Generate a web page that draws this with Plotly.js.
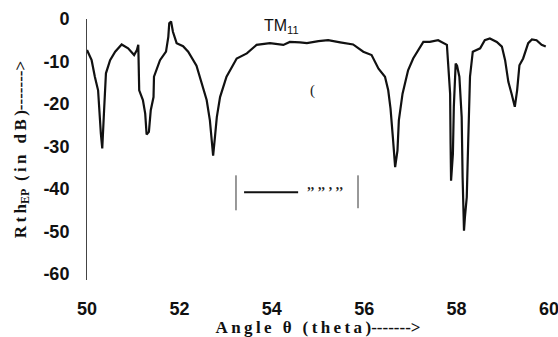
<!DOCTYPE html>
<html>
<head>
<meta charset="utf-8">
<script src="https://cdn.plot.ly/plotly-3.0.1.min.js"></script>
<style>html,body{margin:0;padding:0;background:#fff;}#chart{width:558px;height:337px;}</style>
</head>
<body>
<div id="chart"></div>
<script>
// Angle theta (degrees)
const angle = [
  50.00, 50.10, 50.17, 50.24, 50.30, 50.33, 50.37, 50.41, 50.50, 50.61,
  50.75, 50.89, 51.02, 51.08, 51.11, 51.13, 51.21, 51.26, 51.29, 51.34,
  51.38, 51.44, 51.45, 51.58, 51.71, 51.76, 51.78, 51.82, 51.86, 51.94,
  52.08, 52.19, 52.37, 52.48, 52.59, 52.66, 52.71, 52.73, 52.77, 52.81,
  52.88, 53.02, 53.24, 53.46, 53.67, 53.96, 54.25, 54.39, 54.61, 54.76,
  55.01, 55.22, 55.48, 55.76, 55.98, 56.16, 56.31, 56.45, 56.52, 56.57,
  56.62, 56.67, 56.72, 56.75, 56.83, 56.95, 57.06, 57.17, 57.28, 57.42,
  57.60, 57.79, 57.82, 57.86, 57.87, 57.88, 57.92, 57.94, 57.98, 58.01,
  58.06, 58.11, 58.13, 58.15, 58.16, 58.18, 58.22, 58.25, 58.29, 58.35,
  58.44, 58.51, 58.61, 58.72, 58.87, 58.98, 59.05, 59.12, 59.19, 59.26,
  59.31, 59.36, 59.44, 59.55, 59.63, 59.73, 59.84, 59.93
];
// Rth_EP (dB)
const rthEP = [
  -7.3, -9.7, -13.6, -16.8, -27.0, -30.5, -21.5, -12.8, -9.7, -7.7,
  -6.0, -6.9, -8.5, -7.3, -6.1, -16.8, -19.1, -22.3, -27.2, -26.6,
  -21.5, -18.4, -13.6, -9.7, -7.7, -4.2, -1.0, -0.6, -3.0, -5.7,
  -6.4, -7.7, -11.0, -15.2, -19.1, -23.9, -29.4, -32.2, -27.8, -23.1,
  -18.4, -13.6, -9.3, -8.1, -6.1, -5.7, -6.1, -5.4, -5.5, -5.7,
  -5.2, -5.0, -5.5, -6.0, -7.7, -8.5, -11.7, -13.6, -16.8, -21.1,
  -27.8, -34.9, -31.0, -23.9, -17.6, -12.1, -9.3, -7.3, -5.4, -5.4,
  -5.0, -6.1, -11.3, -17.6, -29.4, -38.1, -31.8, -20.7, -10.5, -11.0,
  -13.6, -23.1, -37.3, -46.7, -49.9, -46.7, -42.0, -29.4, -13.6, -7.7,
  -7.3, -6.9, -5.0, -4.6, -5.4, -6.5, -9.7, -14.8, -17.6, -20.7,
  -16.8, -10.9, -9.3, -5.7, -4.8, -5.0, -6.1, -6.5
];

const xTickVals = [50, 52, 54, 56, 58, 60];
const xTickText = ["50", "52", "54", "56", "58", "60"];
const yTickVals = [0, -10, -20, -30, -40, -50, -60];
const yTickText = ["0", "-10", "-20", "-30", "-40", "-50", "-60"];
const curveLabel = "TM<sub>11</sub>";
const legendName = "’’ ’’ ’ ’’";
const xTitle = "A\u2009n\u2009g\u2009l\u2009e\u2009 \u2009θ\u2009 \u2009(\u2009t\u2009h\u2009e\u2009t\u2009a\u2009)------->";
const yTitle = "R\u2009t\u2009h<sub>EP</sub>\u2009 (\u2009i\u2009n\u2009 \u2009d\u2009B\u2009)------->";

const tickFont = {family: "Liberation Sans, Arial, sans-serif", size: 18, color: "#111", weight: "bold"};
const titleFont = {family: "Liberation Serif, Times New Roman, serif", size: 17, color: "#111", weight: "bold"};

const trace = {
  x: angle, y: rthEP, type: "scatter", mode: "lines",
  line: {color: "#111", width: 2.2, shape: "linear"},
  name: legendName, showlegend: false, hoverinfo: "skip"
};

const layout = {
  width: 558, height: 337,
  margin: {l: 87, r: 9, t: 19, b: 57, pad: 0},
  paper_bgcolor: "#fff", plot_bgcolor: "#fff",
  showlegend: false,
  xaxis: {
    range: [50, 60], tickvals: xTickVals, ticktext: xTickText,
    showgrid: false, zeroline: false, showline: false, ticks: "",
    tickfont: tickFont, ticklabelstandoff: 16, ticklabeloverflow: "allow", automargin: false,
    title: {text: xTitle, font: titleFont, standoff: 3}
  },
  yaxis: {
    range: [-61.5, 0], tickvals: yTickVals, ticktext: yTickText,
    showgrid: false, zeroline: false, showline: true, linecolor: "#444", linewidth: 1,
    ticks: "", tickfont: tickFont, ticklabelstandoff: 13, ticklabeloverflow: "allow", automargin: false,
    title: {text: yTitle, font: titleFont, standoff: 12}
  },
  annotations: [
    {xref: "x", yref: "y", x: 54.2, y: -1.7, text: curveLabel, showarrow: false,
     font: {family: "Liberation Sans, Arial, sans-serif", size: 16, color: "#111"}},
    {xref: "x", yref: "y", x: 54.89, y: -16.8, text: "(", showarrow: false,
     font: {family: "Liberation Serif, serif", size: 15, color: "#222"}},
    {xref: "paper", yref: "paper", x: 0.515, y: 0.336, text: "<i>" + legendName + "</i>", showarrow: false,
     font: {family: "Liberation Serif, serif", size: 14, color: "#222", weight: "bold"}}
  ],
  shapes: [
    {type: "line", xref: "paper", yref: "paper", x0: 0.3225, x1: 0.3225, y0: 0.267, y1: 0.401, line: {color: "#333", width: 1}},
    {type: "line", xref: "paper", yref: "paper", x0: 0.5866, x1: 0.5866, y0: 0.275, y1: 0.401, line: {color: "#333", width: 1}},
    {type: "line", xref: "paper", yref: "paper", x0: 0.340, x1: 0.457, y0: 0.336, y1: 0.336, line: {color: "#111", width: 2}}
  ]
};

Plotly.newPlot("chart", [trace], layout, {staticPlot: true, displayModeBar: false});
</script>
</body>
</html>
